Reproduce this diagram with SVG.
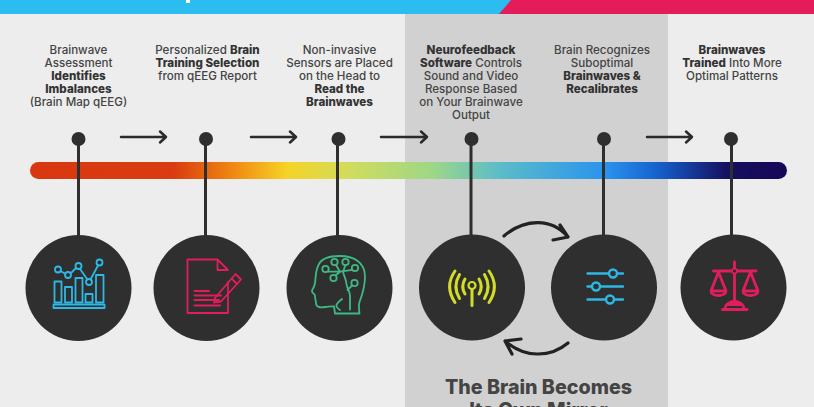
<svg xmlns="http://www.w3.org/2000/svg" width="814" height="407" viewBox="0 0 814 407">
<style>
.t{font-family:"Inter","Liberation Sans",sans-serif;font-size:11.6px;font-weight:500;fill:#444;text-anchor:middle}
.t tspan.b,.b{font-weight:800;fill:#333}
.h{font-family:"Inter","Liberation Sans",sans-serif;font-size:19.700px;font-weight:800;fill:#444;text-anchor:middle}
.stem{stroke:#2f2f2f;stroke-width:3;fill:none}
.arr{stroke:#2b2b2b;stroke-width:2.500;fill:none;stroke-linecap:round;stroke-linejoin:round}
.curve{stroke:#222;stroke-width:3.200;fill:none;stroke-linecap:round;stroke-linejoin:round}
.disc{fill:#2f2f2f}
.ic{fill:none;stroke-width:1.800;stroke-linejoin:round;stroke-linecap:round}
</style>
<defs>
<linearGradient id="g" x1="30" x2="787" y1="0" y2="0" gradientUnits="userSpaceOnUse">
<stop offset="0" stop-color="#d8380f"/>
<stop offset=".19" stop-color="#d93c10"/>
<stop offset=".27" stop-color="#f08a12"/>
<stop offset=".34" stop-color="#f6d327"/>
<stop offset=".42" stop-color="#d2dc5c"/>
<stop offset=".53" stop-color="#9fd786"/>
<stop offset=".62" stop-color="#5cbcc8"/>
<stop offset=".76" stop-color="#2a93ee"/>
<stop offset=".83" stop-color="#1560cc"/>
<stop offset=".92" stop-color="#15105f"/>
<stop offset="1" stop-color="#170658"/>
</linearGradient>
</defs>
<rect width="814" height="407" fill="#ededed"/>
<rect x="405" y="14" width="263" height="393" fill="#d1d1d1"/>
<rect width="814" height="14" fill="#2cbdf0"/>
<polygon points="499,14 511,0 814,0 814,14" fill="#e51c5a"/>
<rect x="186" y="0" width="4" height="3" fill="#fff"/>
<rect x="30" y="162" width="757" height="17" rx="8.500" fill="url(#g)"/>
<text class="h" x="538.500" y="394">The Brain Becomes</text>
<text class="h" x="538.500" y="417">Its Own Mirror</text>
<g id="connectors">
<path class="stem" d="M78.500 139V236M205.500 139V236M337.500 139V236M471 139V236M603.500 139V236M731.500 139V236"/>
<g class="arr">
<path d="M121 137H165M160 131.500L166 137L160 142.500"/>
<path d="M251 137H295M290 131.500L296 137L290 142.500"/>
<path d="M381 137H426M421 131.500L427 137L421 142.500"/>
<path d="M647 137H691M686 131.500L692 137L686 142.500"/>
</g>
<path class="curve" d="M504 236C525 218 552 218 568 237M560 225L568 237L553 240"/>
<path class="curve" d="M568 343C550 358 525 358 505 341M521 339L505 341L512 354"/>
</g>
<g id="n1">
<circle class="disc" cx="78.500" cy="139" r="7"/>
<circle class="disc" cx="78.500" cy="288" r="53"/>
<text class="t" x="78.500" y="53.500">Brainwave</text>
<text class="t" x="78.500" y="66.500">Assessment</text>
<text class="t b" x="78.500" y="79.500">Identifies</text>
<text class="t b" x="78.500" y="92.500">Imbalances</text>
<text class="t" x="78.500" y="105.500">(Brain Map qEEG)</text>
<g class="ic" stroke="#2db8e6">
<rect x="54.500" y="281.500" width="7" height="21"/><rect x="65" y="287" width="7" height="15.500"/><rect x="75.500" y="278" width="7" height="24.500"/><rect x="85.500" y="294" width="7" height="8.500"/><rect x="96" y="275" width="7.500" height="27.500"/>
<rect x="53.500" y="304.500" width="51" height="3.500"/>
<path d="M60.500 271L65.500 274M70.500 273.500L76 268M80 269L87.500 279.500M90.500 279.500L98 265.500"/>
<circle cx="58" cy="269.500" r="3"/><circle cx="68" cy="275" r="3"/><circle cx="78.500" cy="266" r="3"/><circle cx="89" cy="282" r="3"/><circle cx="99.500" cy="262.500" r="3"/>
</g>
</g>
<g id="n2">
<circle class="disc" cx="206" cy="139" r="7"/>
<circle class="disc" cx="206.500" cy="288" r="53"/>
<text class="t" x="207.500" y="53.500">Personalized <tspan class="b">Brain</tspan></text>
<text class="t b" x="207.500" y="66.500">Training Selection</text>
<text class="t" x="207.500" y="79.500">from qEEG Report</text>
<g class="ic" stroke="#e21d5b">
<path d="M228 282V313H187.500V259.500H217.500L228 270M217.500 259.500V270H228"/>
<path d="M194.500 291H209M194.500 295.500H221M194.500 300H219M194.500 305.500H220" stroke-width="2"/>
<path d="M215 298L235.500 274L241 279.500L221 301.500L214 302.500ZM231.500 278.500L237 284"/>
</g>
</g>
<g id="n3">
<circle class="disc" cx="338.500" cy="139" r="7"/>
<circle class="disc" cx="339.500" cy="288" r="53"/>
<text class="t" x="339.500" y="53.500">Non-invasive</text>
<text class="t" x="339.500" y="66.500">Sensors are Placed</text>
<text class="t" x="339.500" y="79.500">on the Head to</text>
<text class="t b" x="339.500" y="92.500">Read the</text>
<text class="t b" x="339.500" y="105.500">Brainwaves</text>
<g class="ic" stroke="#3fb983">
<path d="M359.500 313.500C359 308 358 306 359.500 302C363 293 365 286 365 276.500C365 262 353 256 340 256C329 256 321 259 318.500 265C315 272 316 278 315 283C314 289 312 288.500 312 291C312 294 315 293 315 296C315 300 316 300 316 303C316 307 320 308 325 307C330 306.500 331 306 334 306.500L335 313.500Z"/>
<path d="M340 310C334 306 336 304 342 299"/>
<path d="M350 309.500V296C350 291 347 289 346.500 284C346 279 344 276 343 271.700M340 271.700H328.500M336 265L340 271.700M345.500 265L343 271.700M352.500 269.800L340 271.700M335.500 275.500L340 271.700M347.500 290L352 285.500"/>
<circle cx="325.500" cy="269" r="3.200"/><circle cx="334.500" cy="262" r="3.200"/><circle cx="345.500" cy="262" r="3.200"/><circle cx="355" cy="268" r="3.200"/><circle cx="333.500" cy="278" r="3.200"/><circle cx="354.500" cy="283" r="3.200"/>
</g>
</g>
<g id="n4">
<circle class="disc" cx="471.500" cy="139" r="7"/>
<circle class="disc" cx="472" cy="287.500" r="53"/>
<text class="t b" x="471" y="53.500">Neurofeedback</text>
<text class="t" x="471" y="66.500"><tspan class="b">Software</tspan> Controls</text>
<text class="t" x="471" y="79.500">Sound and Video</text>
<text class="t" x="471" y="92.500">Response Based</text>
<text class="t" x="471" y="105.500">on Your Brainwave</text>
<text class="t" x="471" y="118.500">Output</text>
<g class="ic" stroke="#d3dc28" style="stroke-width:3">
<circle cx="472" cy="285.500" r="3.500" style="stroke-width:2.200"/>
<path d="M472 289.500V305.500"/>
<path d="M465 279C462 284 462 289 465 294M479 279C482 284 482 289 479 294"/>
<path d="M459.500 274.500C455 282 455 291 459.500 298.500M484.500 274.500C489 282 489 291 484.500 298.500"/>
<path d="M455 271C448 281 448 292 455 302.500M489 271C496 281 496 292 489 302.500"/>
</g>
</g>
<g id="n5">
<circle class="disc" cx="604" cy="139" r="7"/>
<circle class="disc" cx="604" cy="287.500" r="53"/>
<text class="t" x="602" y="53.500">Brain Recognizes</text>
<text class="t" x="602" y="66.500">Suboptimal</text>
<text class="t b" x="602" y="79.500">Brainwaves &amp;</text>
<text class="t b" x="602" y="92.500">Recalibrates</text>
<g class="ic" stroke="#2db8e6" style="stroke-width:2.400">
<path d="M587.500 273.500H609M617 273.500H623M587.500 286.500H592M600 286.500H623M587.500 299.500H606M614 299.500H623"/>
<circle cx="613" cy="273.500" r="4"/><circle cx="596" cy="286.500" r="4"/><circle cx="610" cy="299.500" r="4"/>
</g>
</g>
<g id="n6">
<circle class="disc" cx="731" cy="139" r="7"/>
<circle class="disc" cx="733.500" cy="287.500" r="53"/>
<text class="t b" x="732" y="53.500">Brainwaves</text>
<text class="t" x="732" y="66.500"><tspan class="b">Trained</tspan> Into More</text>
<text class="t" x="732" y="79.500">Optimal Patterns</text>
<g class="ic" stroke="#e21d5b" style="stroke-width:2.800">
<path d="M734.500 262V268M734.500 274V304M713.500 271H731M738 271H756"/>
<circle cx="734.500" cy="271" r="2.500" style="stroke-width:1.500"/>
<path d="M718.500 272L711 291M718.500 272L726 291M711 291C711 297 726 297 726 291ZM711 291H726"/>
<path d="M750.500 272L743 291M750.500 272L758 291M743 291C743 297 758 297 758 291ZM743 291H758"/>
<path d="M722.500 309.500H747M725 309C726 299 743 299 744 309M727 304.500H742"/>
</g>
</g>
</svg>
